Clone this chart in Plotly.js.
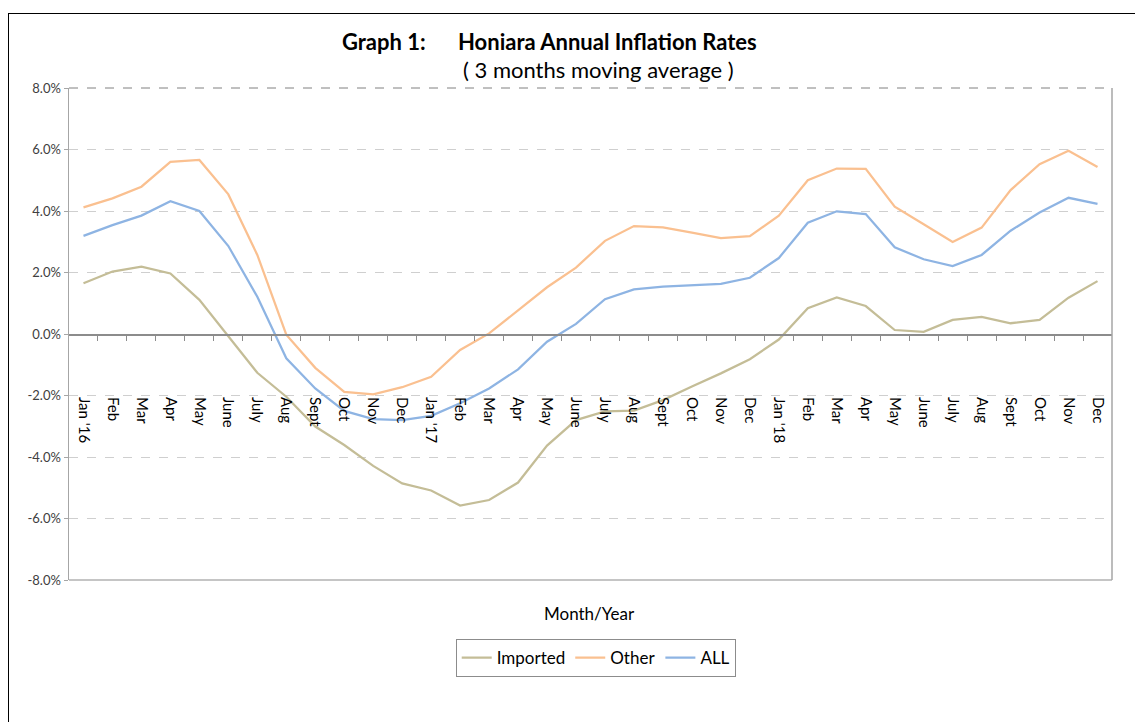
<!DOCTYPE html>
<html>
<head>
<meta charset="utf-8">
<script src="https://cdn.plot.ly/plotly-3.0.1.min.js"></script>
<style>
  html, body { margin: 0; padding: 0; background: #fff; overflow: hidden; }
  #chart { position: absolute; left: 0; top: 0; width: 1135px; height: 722px; }
  #frame { position: absolute; left: 8px; top: 13px; width: 2000px; height: 2000px;
           border: 1px solid #000; pointer-events: none; z-index: 10; }
</style>
</head>
<body>
<div id="chart"></div>
<div id="frame"></div>
<script>
const monthLabels = [
  "Jan '16","Feb","Mar","Apr","May","June","July","Aug","Sept","Oct","Nov","Dec",
  "Jan '17","Feb","Mar","Apr","May","June","July","Aug","Sept","Oct","Nov","Dec",
  "Jan '18","Feb","Mar","Apr","May","June","July","Aug","Sept","Oct","Nov","Dec"
];
const importedVals = [
  1.65, 2.03, 2.19, 1.97, 1.11, -0.09, -1.26, -2.04, -3.01, -3.61, -4.29, -4.86,
  -5.09, -5.58, -5.40, -4.83, -3.63, -2.80, -2.52, -2.49, -2.15, -1.71, -1.28, -0.82,
  -0.18, 0.84, 1.19, 0.91, 0.13, 0.07, 0.46, 0.56, 0.35, 0.46, 1.18, 1.72
];
const otherVals = [
  4.12, 4.41, 4.79, 5.60, 5.66, 4.54, 2.57, -0.02, -1.10, -1.88, -1.96, -1.73,
  -1.39, -0.52, 0.02, 0.78, 1.52, 2.16, 3.03, 3.51, 3.47, 3.30, 3.12, 3.18,
  3.85, 5.00, 5.38, 5.37, 4.14, 3.57, 2.99, 3.46, 4.68, 5.52, 5.96, 5.43
];
const allVals = [
  3.19, 3.54, 3.85, 4.32, 4.00, 2.86, 1.21, -0.79, -1.77, -2.50, -2.77, -2.80,
  -2.66, -2.25, -1.77, -1.15, -0.25, 0.33, 1.13, 1.45, 1.54, 1.58, 1.63, 1.83,
  2.47, 3.62, 3.99, 3.90, 2.82, 2.43, 2.21, 2.57, 3.36, 3.95, 4.43, 4.23
];
const yTicks = [-8, -6, -4, -2, 0, 2, 4, 6, 8];

const xIdx = monthLabels.map((_, i) => i);
const boundaries = monthLabels.slice(0, -1).map((_, i) => i + 0.5);
const FONT = "Lato, 'Open Sans', sans-serif";

function series(name, vals, color) {
  return { type: 'scatter', mode: 'lines', name: name, x: xIdx, y: vals,
           line: { color: color, width: 2.25 }, hoverinfo: 'x+y' };
}

const traces = [
  series('Imported', importedVals, '#C4BD97'),
  series('Other', otherVals, '#FAC090'),
  series('ALL', allVals, '#8EB4E3'),
  { type: 'scatter', mode: 'lines', x: xIdx, y: xIdx.map(() => null), xaxis: 'x2',
    showlegend: false, hoverinfo: 'skip', line: { width: 0 } }
];

const layout = {
  width: 1135, height: 722,
  margin: { l: 69, r: 23, t: 88, b: 142 },
  paper_bgcolor: '#ffffff', plot_bgcolor: '#ffffff',
  font: { family: FONT, color: '#000' },
  showlegend: true,
  legend: {
    orientation: 'h', x: 0.505, xanchor: 'center', y: -0.12, yanchor: 'top',
    bordercolor: '#8c8c8c', borderwidth: 1, font: { size: 17, family: FONT, color: '#000' },
    itemwidth: 30, tracegroupgap: 0
  },
  xaxis: {
    type: 'linear', range: [-0.5, monthLabels.length - 0.5],
    anchor: 'free', position: 0.5,
    showline: true, linecolor: '#8c8c8c', linewidth: 1.5,
    showgrid: false, zeroline: false,
    tickmode: 'array', tickvals: boundaries, ticks: 'outside', ticklen: 5,
    tickcolor: '#8c8c8c', showticklabels: false, fixedrange: true
  },
  xaxis2: {
    type: 'linear', overlaying: 'x', matches: 'x', anchor: 'free', position: 0.374,
    range: [-0.5, monthLabels.length - 0.5],
    showline: false, showgrid: false, zeroline: false, ticks: '',
    tickmode: 'array', tickvals: xIdx, ticktext: monthLabels, tickangle: 90,
    tickfont: { size: 15, family: FONT, color: '#000' }
  },
  yaxis: {
    range: [-8, 8], tickmode: 'array', tickvals: yTicks,
    ticktext: yTicks.map(v => v.toFixed(1) + '%'),
    tickfont: { size: 13, family: FONT, color: '#404040' },
    showline: true, linecolor: '#a6a6a6', linewidth: 1.5,
    ticks: 'outside', ticklen: 4, tickcolor: '#a6a6a6',
    showgrid: true, gridcolor: '#cfcfcf', griddash: 'dash', gridwidth: 1,
    zeroline: false, fixedrange: true
  },
  shapes: [
    { type: 'line', xref: 'paper', yref: 'paper', x0: 0, x1: 1, y0: 0, y1: 0,
      line: { color: '#8c8c8c', width: 1.2 } },
    { type: 'line', xref: 'paper', yref: 'paper', x0: 1, x1: 1, y0: 0, y1: 1,
      line: { color: '#a6a6a6', width: 1.5 } },
    { type: 'line', xref: 'paper', yref: 'paper', x0: 0, x1: 1, y0: 1, y1: 1,
      line: { color: '#808080', width: 1, dash: 'dash' } }
  ],
  annotations: [
    { text: '<b>Graph 1:</b>', xref: 'paper', yref: 'paper', x: 0.2598, y: 1.0935,
      xanchor: 'left', yanchor: 'middle', showarrow: false,
      font: { size: 22, family: FONT, color: '#000' } },
    { text: '<b>Honiara Annual Inflation Rates</b>', xref: 'paper', yref: 'paper', x: 0.371, y: 1.0935,
      xanchor: 'left', yanchor: 'middle', showarrow: false,
      font: { size: 22, family: FONT, color: '#000' } },
    { text: '( 3 months moving average )', xref: 'paper', yref: 'paper', x: 0.5077, y: 1.0386,
      xanchor: 'center', yanchor: 'middle', showarrow: false,
      font: { size: 22, family: FONT, color: '#000' } },
    { text: 'Month/Year', xref: 'paper', yref: 'paper', x: 0.4995, y: -0.069,
      xanchor: 'center', yanchor: 'middle', showarrow: false,
      font: { size: 17, family: FONT, color: '#000' } }
  ]
};

Plotly.newPlot('chart', traces, layout, { displayModeBar: false, staticPlot: true });
</script>
</body>
</html>
